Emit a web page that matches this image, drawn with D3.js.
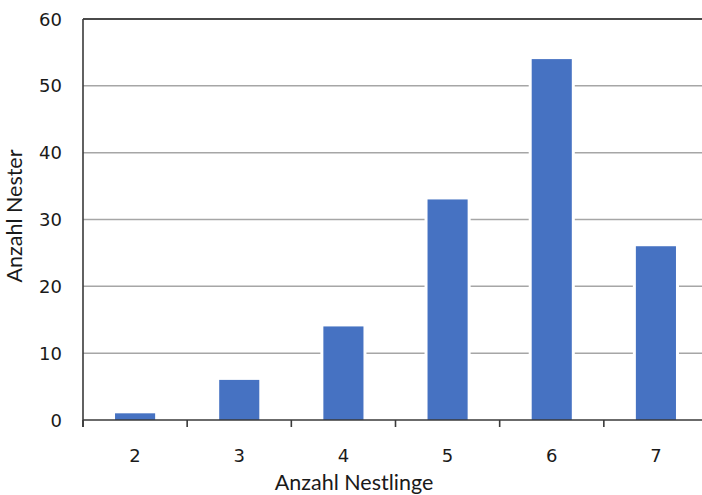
<!DOCTYPE html>
<html>
<head>
<meta charset="utf-8">
<script src="https://cdn.jsdelivr.net/npm/d3@7"></script>
<style>
  html, body { margin: 0; padding: 0; background: #fff; }
  svg { display: block; }
</style>
</head>
<body>
<svg id="chart" width="702" height="495"></svg>
<script>
// Brood size distribution: number of nests per number of nestlings
const categories = ["2", "3", "4", "5", "6", "7"];
const nestCounts = [1, 6, 14, 33, 54, 26];
const yTicks = [0, 10, 20, 30, 40, 50, 60];

const svg = d3.select("#chart");
const plotLeft = 83, plotRight = 708, plotTop = 19, plotBottom = 420;

const x = d3.scaleBand().domain(categories).range([plotLeft, plotRight]).paddingInner(0.615).paddingOuter(0.3075);
const y = d3.scaleLinear().domain([0, 60]).range([plotBottom, plotTop]);
const barData = categories.map((c, i) => ({ c, v: nestCounts[i] }));

// horizontal gridlines
svg.append("g")
  .selectAll("line")
  .data(yTicks.filter(t => t > 0 && t < 60))
  .join("line")
  .attr("x1", plotLeft).attr("x2", plotRight)
  .attr("y1", d => y(d)).attr("y2", d => y(d))
  .attr("stroke", "#a6a6a6").attr("stroke-width", 1.5);

// top frame line
svg.append("line")
  .attr("x1", plotLeft).attr("x2", plotRight)
  .attr("y1", y(60)).attr("y2", y(60))
  .attr("stroke", "#4a4a4a").attr("stroke-width", 2);

// white halo around bars interrupts the gridlines
svg.append("g")
  .selectAll("rect")
  .data(barData)
  .join("rect")
  .attr("x", d => x(d.c) - 3)
  .attr("width", x.bandwidth() + 6)
  .attr("y", d => y(d.v) - 3)
  .attr("height", d => y(0) - y(d.v) + 3)
  .attr("fill", "#fff");

// bars
svg.append("g")
  .selectAll("rect")
  .data(barData)
  .join("rect")
  .attr("x", d => x(d.c))
  .attr("width", x.bandwidth())
  .attr("y", d => y(d.v))
  .attr("height", d => y(0) - y(d.v))
  .attr("fill", "#4672c2");

// x axis with ticks at category boundaries
const xAxis = svg.append("g");
xAxis.append("line")
  .attr("x1", plotLeft).attr("x2", plotRight)
  .attr("y1", plotBottom).attr("y2", plotBottom)
  .attr("stroke", "#3a3a3a").attr("stroke-width", 1.6);
const step = x.step();
xAxis.selectAll("line.tick")
  .data(d3.range(categories.length + 1))
  .join("line")
  .attr("class", "tick")
  .attr("x1", i => plotLeft + i * step).attr("x2", i => plotLeft + i * step)
  .attr("y1", plotBottom).attr("y2", plotBottom + 7)
  .attr("stroke", "#3a3a3a").attr("stroke-width", 1.6);
xAxis.selectAll("text")
  .data(categories)
  .join("text")
  .attr("x", d => x(d) + x.bandwidth() / 2)
  .attr("y", 462)
  .attr("text-anchor", "middle")
  .attr("font-family", "DejaVu Sans, Verdana, sans-serif")
  .attr("font-size", 18)
  .attr("fill", "#1a1a1a")
  .text(d => d);

// y axis
const yAxis = svg.append("g");
yAxis.append("line")
  .attr("x1", plotLeft).attr("x2", plotLeft)
  .attr("y1", plotTop).attr("y2", plotBottom + 7)
  .attr("stroke", "#3a3a3a").attr("stroke-width", 1.6);
yAxis.selectAll("text")
  .data(yTicks)
  .join("text")
  .attr("x", 62)
  .attr("y", d => y(d) + 6.5)
  .attr("text-anchor", "end")
  .attr("font-family", "DejaVu Sans, Verdana, sans-serif")
  .attr("font-size", 18)
  .attr("fill", "#1a1a1a")
  .text(d => d);

// axis titles
svg.append("text")
  .attr("x", 354).attr("y", 490)
  .attr("text-anchor", "middle")
  .attr("font-family", "Lato, Open Sans, sans-serif")
  .attr("font-size", 21.5)
  .attr("fill", "#1a1a1a")
  .text("Anzahl Nestlinge");

svg.append("text")
  .attr("transform", "translate(22,216) rotate(-90)")
  .attr("text-anchor", "middle")
  .attr("font-family", "Lato, Open Sans, sans-serif")
  .attr("font-size", 21.5)
  .attr("fill", "#1a1a1a")
  .text("Anzahl Nester");
</script>
</body>
</html>
